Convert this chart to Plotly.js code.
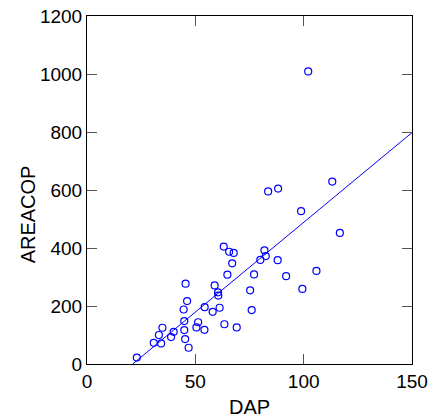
<!DOCTYPE html>
<html>
<head>
<meta charset="utf-8">
<script src="https://cdn.plot.ly/plotly-3.0.1.min.js"></script>
<style>html,body{margin:0;padding:0;background:#fff;}#chart{width:434px;height:419px;}</style>
</head>
<body>
<div id="chart"></div>
<script>
const dap = [23.0, 30.8, 33.2, 34.2, 34.8, 38.8, 40.0, 45.5, 46.2, 44.6, 44.9, 44.9, 45.3, 46.9,
  50.5, 51.3, 54.2, 54.3, 58.0, 58.9, 60.5, 60.6, 61.2, 63.4, 63.1, 64.8, 65.6, 67.7, 67.0, 69.1,
  75.3, 76.0, 77.1, 102.1, 83.6, 88.2, 113.2, 98.8, 116.7, 81.9, 82.5, 80.0, 88.0, 91.9, 105.9, 99.4];
const areacop = [22, 73, 100, 71, 125, 93, 111, 277, 217, 188, 148, 117, 86, 56,
  126, 144, 118, 196, 180, 271, 247, 236, 194, 137, 405, 308, 387, 383, 347, 126,
  254, 186, 309, 1009, 595, 605, 629, 527, 452, 392, 372, 359, 358, 303, 321, 259];
const fitX = [21.1, 150];
const fitY = [0, 798];
const xTicks = [0, 50, 100, 150];
const yTicks = [0, 200, 400, 600, 800, 1000, 1200];

const blue = '#0000ff';
const fam = 'Liberation Sans, Arial, sans-serif';
const traces = [
  {x: fitX, y: fitY, mode: 'lines', type: 'scatter', line: {color: blue, width: 1}, hoverinfo: 'skip'},
  {x: dap, y: areacop, mode: 'markers', type: 'scatter',
   marker: {symbol: 'circle-open', color: blue, size: 7, line: {width: 1.2, color: blue}}}
];
const axisCommon = {
  showgrid: false, zeroline: false, showline: true, linecolor: '#000', linewidth: 1,
  mirror: 'ticks', ticks: 'inside', ticklen: 10, tickcolor: '#555', tickwidth: 1,
  tickfont: {family: fam, size: 19, color: '#000'}
};
const layout = {
  width: 434, height: 419,
  margin: {l: 87, r: 22, t: 16, b: 55},
  paper_bgcolor: '#fff', plot_bgcolor: '#fff',
  showlegend: false,
  xaxis: Object.assign({}, axisCommon, {
    range: [0, 150], tickvals: xTicks, ticktext: xTicks.map(String),
    title: {text: 'DAP', font: {family: fam, size: 20, color: '#000'}, standoff: 9}
  }),
  yaxis: Object.assign({}, axisCommon, {
    range: [0, 1200], tickvals: yTicks, ticktext: yTicks.map(String)
  }),
  annotations: [{
    text: 'AREACOP', xref: 'paper', yref: 'paper', x: -0.1815, y: 0.43,
    xanchor: 'center', yanchor: 'middle', textangle: -90, showarrow: false,
    font: {family: fam, size: 20, color: '#000'}
  }]
};
Plotly.newPlot('chart', traces, layout, {staticPlot: true, displayModeBar: false});
</script>
</body>
</html>
